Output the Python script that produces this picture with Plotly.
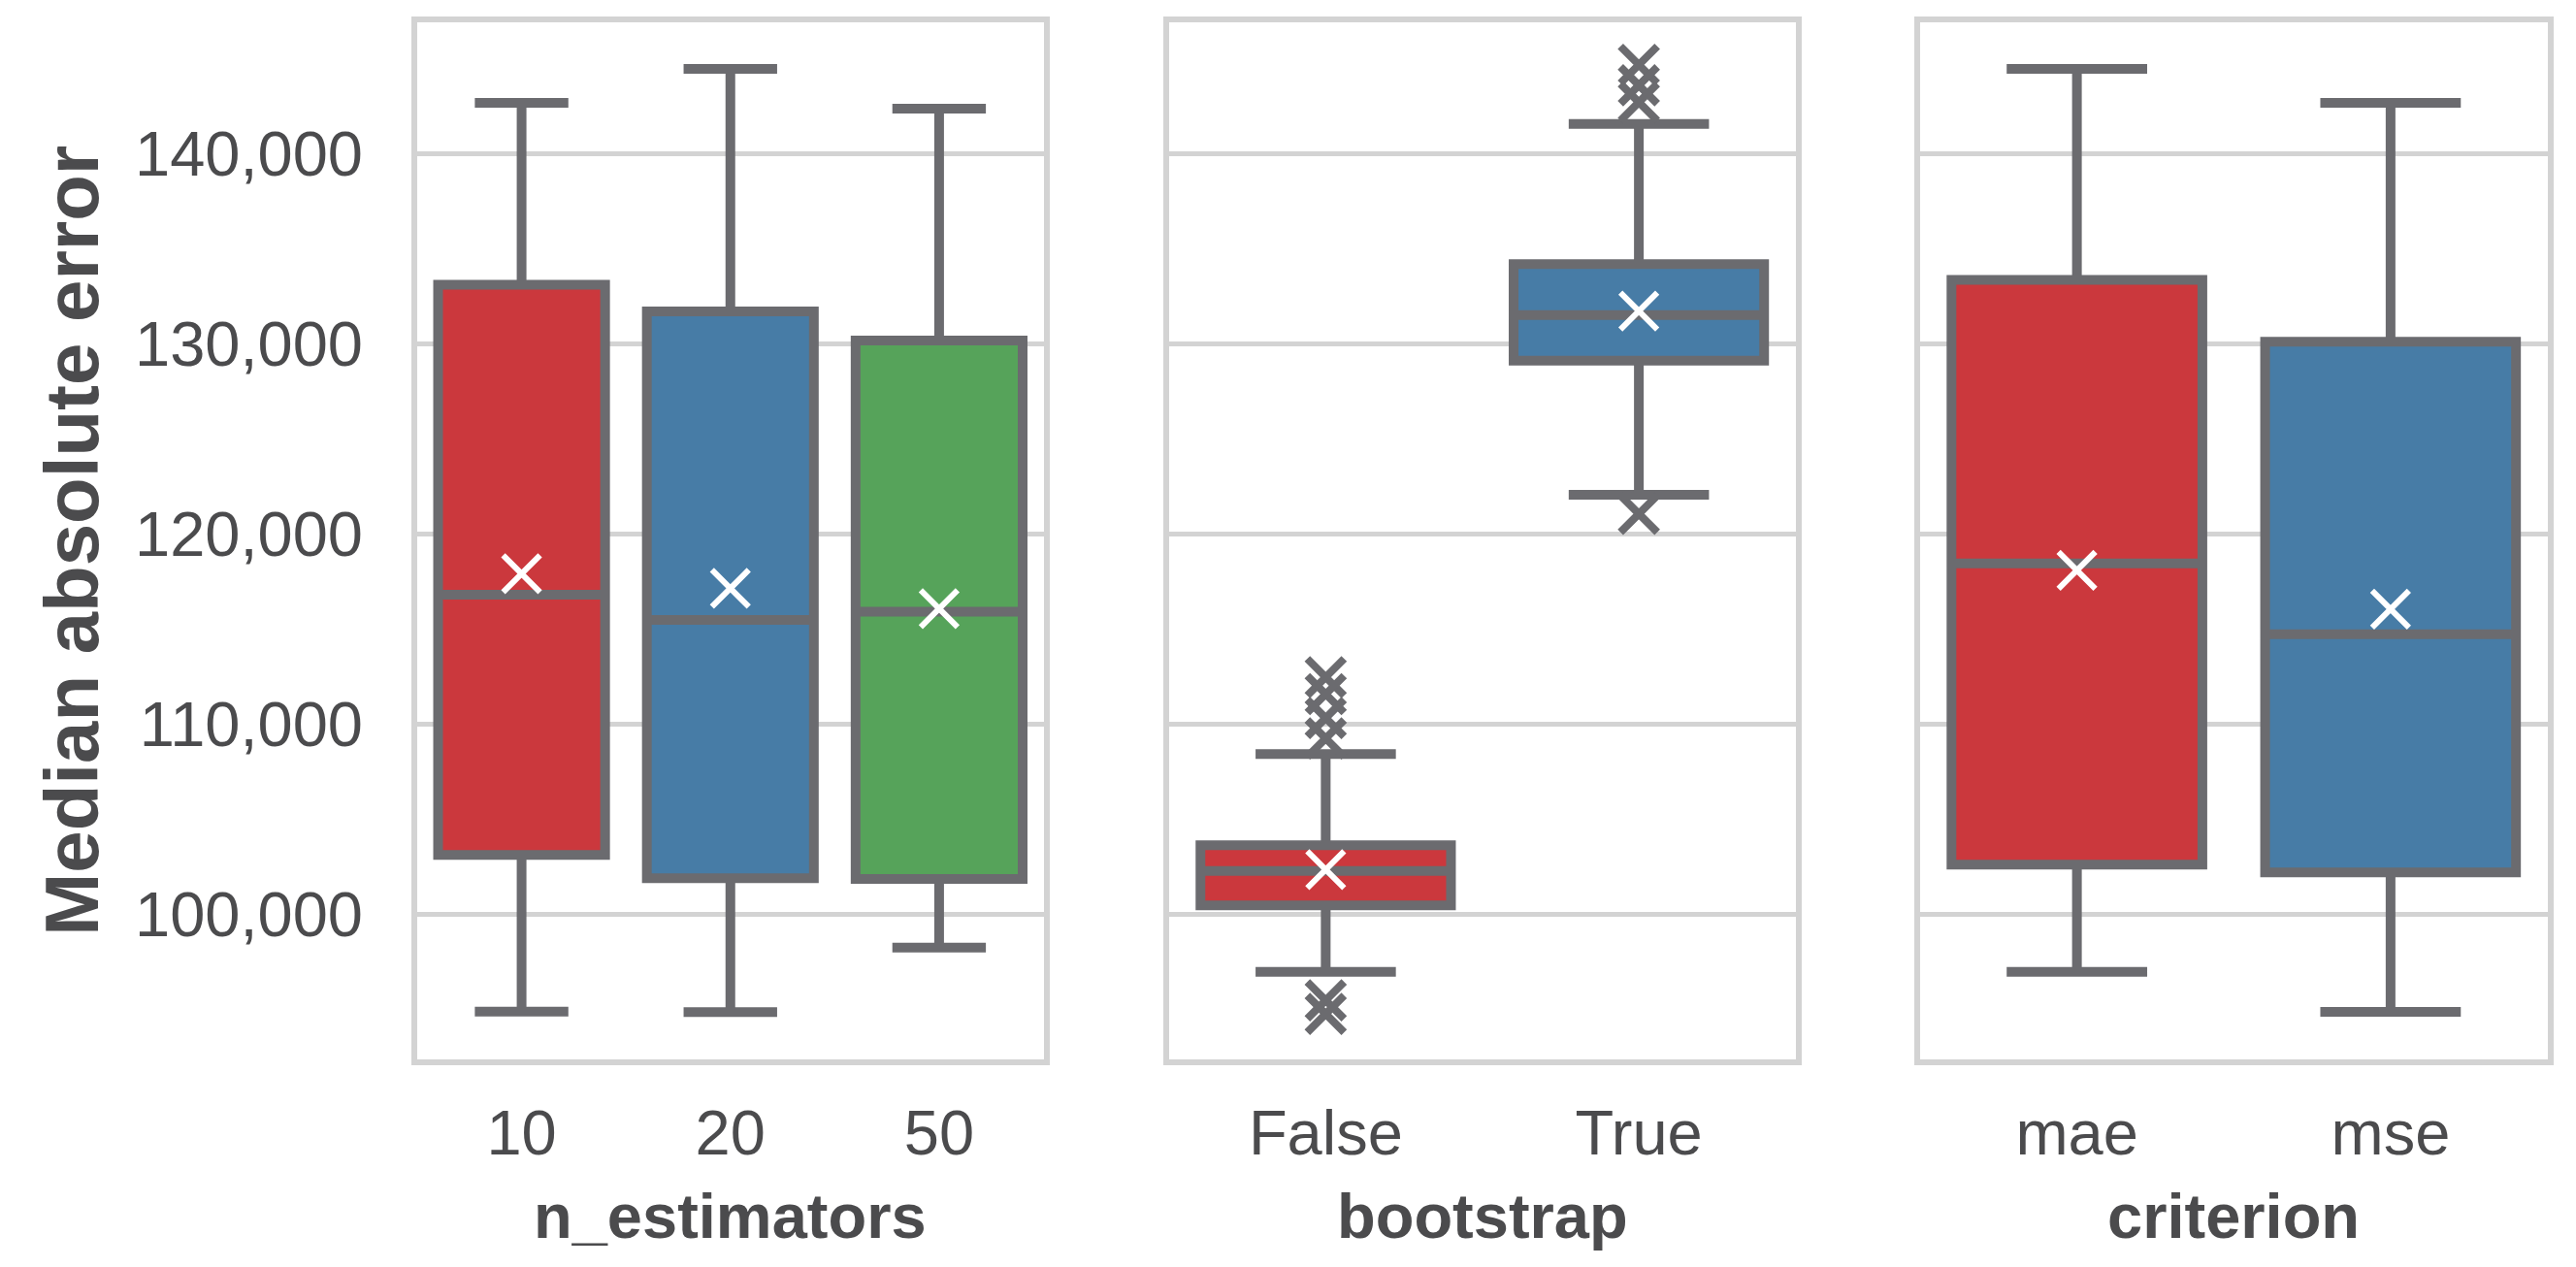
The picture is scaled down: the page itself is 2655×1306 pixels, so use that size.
import plotly.graph_objects as go

# ---------------- data ----------------
n_est_cats = ["10", "20", "50"]
n_est_low = [94898, 94867, 98259]
n_est_q1 = [103142, 101911, 101868]
n_est_med = [116815, 115499, 115924]
n_est_q3 = [133121, 131720, 130191]
n_est_high = [142689, 144474, 142378]
n_est_mean = [117920, 117155, 116093]

boot_cats = ["False", "True"]
boot_low = [96995, 122075]
boot_q1 = [100480, 129123]
boot_med = [102290, 131520]
boot_q3 = [103649, 134204]
boot_high = [108444, 141574]
boot_mean = [102361, 131735]
boot_false_outliers = [112487, 111592, 110340, 109267, 95492, 94776]
boot_true_outliers = [144687, 143613, 142719, 121073]

crit_cats = ["mae", "mse"]
crit_low = [96995, 94884]
crit_q1 = [102630, 102218]
crit_med = [118462, 114741]
crit_q3 = [133380, 130125]
crit_high = [144472, 142683]
crit_mean = [118104, 116064]

y_ticks = [100000, 110000, 120000, 130000, 140000]
y_tick_labels = ["100,000", "110,000", "120,000", "130,000", "140,000"]

# ---------------- style ----------------
# The page body has an 8px margin, so the figure is drawn 8px smaller and
# every pixel position is taken relative to that offset.
OFF = 8
W, H = 2655 - 2 * OFF, 1306 - 2 * OFF
RED, BLUE, GREEN = "#cb383d", "#477ca6", "#56a35a"
GRAY = "#6b6b6f"
GRID = "#d3d3d3"
TEXT = "#4b4b4d"
FONT = "Liberation Sans, Arial, sans-serif"

fig = go.Figure()


def add_boxes(cats, low, q1, med, q3, high, colors, xa, ya):
    for i, c in enumerate(cats):
        fig.add_trace(go.Box(
            x=[c], q1=[q1[i]], median=[med[i]], q3=[q3[i]],
            lowerfence=[low[i]], upperfence=[high[i]],
            fillcolor=colors[i], line=dict(color=GRAY, width=10),
            width=0.8, whiskerwidth=0.56, boxpoints=False,
            xaxis=xa, yaxis=ya, showlegend=False, hoverinfo="skip",
        ))


def add_points(xs, ys, color, lw, xa, ya):
    fig.add_trace(go.Scatter(
        x=xs, y=ys, mode="markers",
        marker=dict(symbol="x-thin", size=38, color=color,
                    line=dict(color=color, width=lw)),
        xaxis=xa, yaxis=ya, showlegend=False, hoverinfo="skip",
    ))


add_boxes(n_est_cats, n_est_low, n_est_q1, n_est_med, n_est_q3, n_est_high,
          [RED, BLUE, GREEN], "x", "y")
add_points(n_est_cats, n_est_mean, "white", 6, "x", "y")

add_boxes(boot_cats, boot_low, boot_q1, boot_med, boot_q3, boot_high,
          [RED, BLUE], "x2", "y2")
add_points(["False"] * len(boot_false_outliers), boot_false_outliers, GRAY, 8, "x2", "y2")
add_points(["True"] * len(boot_true_outliers), boot_true_outliers, GRAY, 8, "x2", "y2")
add_points(boot_cats, boot_mean, "white", 6, "x2", "y2")

add_boxes(crit_cats, crit_low, crit_q1, crit_med, crit_q3, crit_high,
          [RED, BLUE], "x3", "y3")
add_points(crit_cats, crit_mean, "white", 6, "x3", "y3")

# ---------------- axes ----------------
def px_x(p):
    return (p - OFF) / W


def px_y(p):
    return 1 - (p - OFF) / H


x_domains = [(px_x(430), px_x(1075.5)), (px_x(1205), px_x(1850.5)), (px_x(1979), px_x(2625.5))]
y_domain = (px_y(1092.3), px_y(23))
cat_lists = [n_est_cats, boot_cats, crit_cats]
y_range = [92370, 146920]

layout = dict(
    width=W, height=H,
    margin=dict(l=0, r=0, t=0, b=0, autoexpand=False),
    paper_bgcolor="white", plot_bgcolor="white",
    font=dict(family=FONT, color=TEXT, size=65),
    boxmode="overlay",
    showlegend=False,
)

for k in range(3):
    sx = "" if k == 0 else str(k + 1)
    layout["xaxis" + sx] = dict(
        domain=list(x_domains[k]), anchor="y" + sx,
        type="category", categoryorder="array", categoryarray=cat_lists[k],
        range=[-0.5, len(cat_lists[k]) - 0.5],
        showline=True, mirror=True, linecolor=GRID, linewidth=6,
        showgrid=False, zeroline=False,
        ticks="outside", ticklen=14, tickcolor="rgba(0,0,0,0)",
        tickfont=dict(family=FONT, size=65, color=TEXT),
        automargin=False, fixedrange=True,
    )
    layout["yaxis" + sx] = dict(
        domain=list(y_domain), anchor="x" + sx,
        range=y_range,
        tickvals=y_ticks, ticktext=y_tick_labels,
        showticklabels=(k == 0),
        showline=True, mirror=True, linecolor=GRID, linewidth=6,
        showgrid=True, gridcolor=GRID, gridwidth=5, zeroline=False,
        ticks="outside" if k == 0 else "", ticklen=37, tickcolor="rgba(0,0,0,0)",
        tickfont=dict(family=FONT, size=65, color=TEXT),
        automargin=False, fixedrange=True,
    )

fig.update_layout(**layout)

# axis titles
x_titles = ["n_estimators", "bootstrap", "criterion"]
for k in range(3):
    fig.add_annotation(
        text="<b>" + x_titles[k] + "</b>", xref="paper", yref="paper",
        x=(x_domains[k][0] + x_domains[k][1]) / 2, y=px_y(1253),
        xanchor="center", yanchor="middle", showarrow=False,
        font=dict(family=FONT, size=65, color=TEXT),
    )
fig.add_annotation(
    text="<b>Median absolute error</b>", xref="paper", yref="paper",
    x=px_x(74), y=(y_domain[0] + y_domain[1]) / 2, textangle=-90,
    xanchor="center", yanchor="middle", showarrow=False,
    font=dict(family=FONT, size=78, color=TEXT),
)

fig.write_html("out.html")
